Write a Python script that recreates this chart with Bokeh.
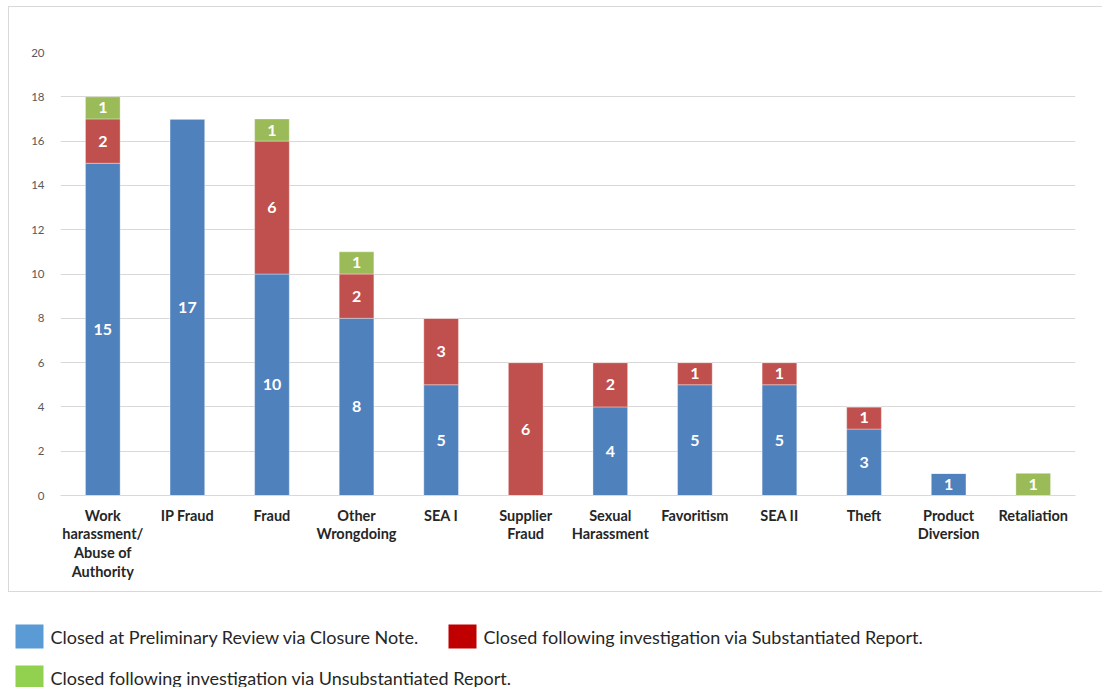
from bokeh.plotting import figure
from bokeh.models import ColumnDataSource, FactorRange, Range1d, FixedTicker
from bokeh.core.properties import value
from bokeh.embed import file_html
from bokeh.resources import INLINE

categories = ["Work\nharassment/\nAbuse of\nAuthority", "IP Fraud", "Fraud", "Other\nWrongdoing",
              "SEA I", "Supplier\nFraud", "Sexual\nHarassment", "Favoritism", "SEA II", "Theft",
              "Product\nDiversion", "Retaliation"]
closure_note = [15, 17, 10, 8, 5, 0, 4, 5, 5, 3, 1, 0]
substantiated = [2, 0, 6, 2, 3, 6, 2, 1, 1, 1, 0, 0]
unsubstantiated = [1, 0, 1, 1, 0, 0, 0, 0, 0, 0, 0, 1]
series_names = ["Closed at Preliminary Review via Closure Note.",
                "Closed following investigation via Substantiated Report.",
                "Closed following investigation via Unsubstantiated Report."]
y_ticks = [0, 2, 4, 6, 8, 10, 12, 14, 16, 18, 20]

bar_colors = ["#4F81BD", "#C0504D", "#9BBB59"]
legend_colors = ["#5B9BD5", "#C00000", "#92D050"]

p = figure(x_range=FactorRange(factors=categories, range_padding=0), y_range=Range1d(0, 20),
           frame_width=1015, frame_height=443, output_backend="svg", toolbar_location=None,
           min_border_left=51, min_border_right=27, min_border_top=45, min_border_bottom=96)
p.styles = {"border-top": "1px solid #d9d9d9", "border-left": "1px solid #d9d9d9",
            "border-bottom": "1px solid #d9d9d9"}
p.margin = (6, 0, 0, 8)
p.outline_line_color = None
p.background_fill_color = "white"

src = ColumnDataSource(dict(cat=categories, a=closure_note, b=substantiated, c=unsubstantiated))
p.vbar_stack(["a", "b", "c"], x="cat", width=0.41, color=bar_colors, source=src,
             line_color="white", line_alpha=0.35, line_width=1)

# segment labels
lx, ly, lt = [], [], []
for i, cat in enumerate(categories):
    base = 0
    for v in (closure_note[i], substantiated[i], unsubstantiated[i]):
        if v > 0:
            lx.append(cat)
            ly.append(base + v / 2)
            lt.append(str(v))
        base += v
lsrc = ColumnDataSource(dict(x=lx, y=ly, t=lt))
p.text(x="x", y="y", text="t", source=lsrc, text_color="white", text_font=value("Lato"),
       text_font_style="bold", text_font_size="16px", text_align="center", text_baseline="middle")

p.yaxis.ticker = FixedTicker(ticks=y_ticks)
p.yaxis.axis_line_color = None
p.yaxis.major_tick_line_color = None
p.yaxis.minor_tick_line_color = None
p.yaxis.major_label_text_color = "#595959"
p.yaxis.major_label_text_font = "Lato"
p.yaxis.major_label_text_font_size = "11.5px"
p.yaxis.major_label_standoff = 10

p.xaxis.axis_line_color = "#d9d9d9"
p.xaxis.major_tick_line_color = None
p.xaxis.minor_tick_line_color = None
p.xaxis.major_label_text_color = "#262626"
p.xaxis.major_label_text_font = "Lato"
p.xaxis.major_label_text_font_style = "bold"
p.xaxis.major_label_text_font_size = "14.5px"
p.xaxis.major_label_text_line_height = 1.1
p.xaxis.major_label_text_baseline = "top"
p.xaxis.major_label_text_align = "center"
p.xaxis.major_label_standoff = 5
p.xaxis.major_label_orientation = "horizontal"

p.xgrid.grid_line_color = None
p.ygrid.grid_line_color = "#d9d9d9"
p.ygrid.grid_line_width = 1

# legend panel (separate root)
LW, LH = 1094, 95
lg = figure(x_range=Range1d(0, LW), y_range=Range1d(LH, 0), width=LW, height=LH,
            x_axis_type=None, y_axis_type=None,
            output_backend="svg", toolbar_location=None,
            min_border=0, min_border_left=0, min_border_right=0, min_border_top=0, min_border_bottom=0)
lg.grid.visible = False
lg.outline_line_color = None

leg_x = [15, 448, 15]
leg_y = [44, 44, 85]
lg.rect(x=[v + 14 for v in leg_x], y=leg_y, width=28, height=24, fill_color=legend_colors,
        line_color=None)
lg.text(x=[v + 35 for v in leg_x], y=leg_y, text=series_names, text_font=value("Lato"),
        text_font_size="18px", text_color="#262626", text_baseline="middle", text_align="left")

open("out.html", "w").write(file_html([p, lg], INLINE))
